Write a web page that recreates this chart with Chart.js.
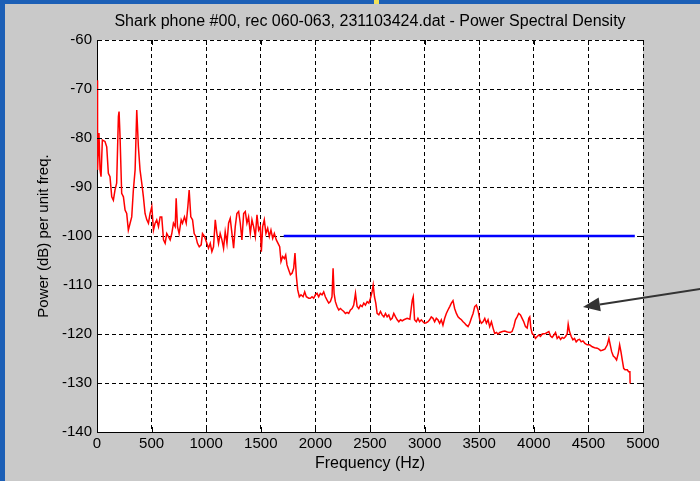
<!DOCTYPE html>
<html>
<head>
<meta charset="utf-8">
<title>Power Spectral Density</title>
<script src="https://cdn.jsdelivr.net/npm/chart.js@4.4.0/dist/chart.umd.min.js"></script>
<style>
  html, body { margin: 0; padding: 0; background: #1c5fb6; overflow: hidden; }
  canvas { display: block; }
</style>
</head>
<body>
<canvas id="psd" width="700" height="481"></canvas>
<script>
// valori (Hz, dB per unità di frequenza)
const psdFreq = [
  0, 5, 18, 28, 37, 49, 73, 89, 104, 119, 135, 150, 165, 180, 196, 202, 211, 226, 242, 257,
  272, 287, 303, 318, 333, 349, 364, 379, 394, 410, 425, 440, 456, 471, 486, 502, 517, 532, 547, 563,
  578, 593, 609, 624, 639, 654, 670, 685, 700, 716, 725, 737, 752, 771, 783, 801, 817, 832, 844, 859,
  875, 890, 905, 920, 936, 954, 966, 985,
  1006, 1021, 1037, 1052, 1067, 1083, 1098, 1113, 1128, 1144, 1159, 1174, 1190, 1205, 1220, 1236, 1251, 1266, 1281, 1297,
  1312, 1327, 1343, 1358, 1373, 1388, 1404, 1419, 1434, 1450, 1465, 1480, 1495, 1505, 1517, 1532, 1547, 1563, 1578, 1593,
  1609, 1624, 1642, 1658, 1673, 1685, 1700, 1716, 1728, 1740, 1755, 1771, 1786, 1801, 1813, 1826, 1838, 1853, 1868, 1887,
  1902, 1917, 1939,
  1954, 1969, 1984, 2000, 2015, 2030, 2045, 2061, 2076, 2091, 2107, 2122, 2137, 2152, 2162, 2171, 2183, 2198, 2214, 2229,
  2244, 2260, 2275, 2290, 2305, 2321, 2336, 2351, 2367, 2382, 2397, 2412, 2428, 2443, 2458, 2474, 2489, 2504, 2519, 2529,
  2541, 2553, 2565, 2581, 2596, 2611, 2627, 2642, 2657, 2672, 2688, 2703, 2718, 2734, 2749, 2764, 2779, 2795, 2810, 2840,
  2865,
  2887, 2896, 2908, 2924, 2939, 2954, 2970, 2985, 3000, 3015, 3031, 3046, 3061, 3077, 3092, 3107, 3122, 3138, 3153, 3168,
  3184, 3199, 3214, 3230, 3245, 3260, 3275, 3291, 3306, 3321, 3337, 3352, 3367, 3382, 3398, 3413, 3428, 3444, 3459, 3474,
  3489, 3505, 3520, 3535, 3551, 3566, 3581, 3596, 3612, 3627, 3642, 3658, 3673, 3688, 3713, 3734, 3758, 3783,
  3801, 3817, 3832, 3847, 3862, 3878, 3893, 3908, 3924, 3939, 3954, 3963, 3973, 3985, 4000, 4015, 4031, 4046, 4061, 4077,
  4107, 4138, 4153, 4168, 4184, 4199, 4214, 4229, 4245, 4260, 4275, 4291, 4306, 4315, 4327, 4343, 4358, 4373, 4388, 4404,
  4419, 4434, 4450, 4468, 4489, 4511, 4535, 4557, 4581, 4596, 4612, 4627, 4651, 4673, 4688, 4700, 4713, 4728, 4743, 4758,
  4774, 4786, 4798, 4810, 4823, 4835, 4856, 4868, 4880, 4882
];
const psdDb = [
  -68.2, -86.5, -79.0, -86.5, -87.9, -80.4, -80.7, -81.8, -87.2, -87.9, -92.0, -92.7, -90.6, -89.2, -75.6, -74.6, -79.7, -91.3, -92.0, -94.7,
  -95.4, -98.8, -97.4, -96.1, -90.6, -86.5, -74.3, -81.8, -86.5, -89.2, -92.0, -95.4, -96.7, -97.4, -95.4, -94.0, -98.8, -97.4, -96.7, -98.1,
  -96.1, -96.1, -100.8, -101.5, -99.5, -100.1, -100.8, -99.5, -97.4, -98.1, -92.3, -98.1, -99.5, -96.7, -97.4, -96.1, -97.4, -94.0, -90.6, -96.1,
  -96.7, -99.5, -100.1, -101.5, -102.2, -101.8, -99.5, -100.1,
  -101.5, -102.5, -101.5, -103.2, -102.2, -96.7, -99.5, -101.5, -99.5, -100.8, -102.5, -99.1, -101.5, -97.4, -96.4, -99.5, -102.5, -98.1, -95.4, -95.0,
  -97.4, -100.8, -95.4, -95.0, -97.4, -96.1, -99.5, -96.7, -98.1, -100.1, -95.7, -98.8, -98.1, -103.2, -98.1, -96.7, -99.5, -98.4, -100.1, -98.8,
  -100.5, -99.5, -100.8, -101.5, -102.2, -105.2, -104.2, -104.6, -103.9, -105.9, -106.9, -107.9, -107.6, -106.6, -103.5, -108.3, -111.0, -112.4, -112.0, -112.4,
  -111.4, -112.4, -112.7,
  -112.7, -112.4, -112.7, -112.0, -111.7, -112.4, -111.7, -112.0, -111.4, -112.4, -113.1, -113.7, -113.4, -112.4, -106.6, -111.7, -113.4, -114.4, -115.1, -114.8,
  -115.1, -115.4, -115.8, -115.6, -115.8, -115.1, -114.8, -114.1, -111.7, -114.4, -114.8, -114.1, -114.4, -113.7, -114.1, -113.4, -113.7, -112.7, -111.4, -110.0,
  -112.4, -113.7, -115.8, -116.1, -115.4, -116.1, -116.5, -115.8, -116.5, -116.1, -117.1, -116.8, -115.8, -116.5, -117.1, -117.5, -117.1, -117.3, -117.1, -116.8,
  -117.0,
  -113.1, -112.4, -117.1, -117.5, -116.8, -117.5, -117.1, -117.5, -117.8, -117.7, -117.5, -117.1, -116.5, -116.8, -117.5, -116.8, -117.1, -117.8, -117.1, -118.2,
  -116.8, -115.8, -115.1, -114.4, -113.7, -113.2, -114.8, -115.8, -116.5, -116.8, -117.1, -117.5, -117.8, -118.2, -118.5, -117.8, -116.8, -115.8, -114.4, -114.1,
  -115.1, -117.1, -117.8, -117.5, -116.8, -117.8, -117.1, -118.5, -117.5, -118.8, -119.9, -119.7, -120.0, -119.7, -119.5, -119.4, -119.6, -119.7,
  -119.5, -118.5, -117.1, -116.5, -115.8, -116.1, -116.8, -117.5, -118.5, -118.8, -116.8, -116.5, -118.8, -119.9, -120.2, -120.9, -120.5, -120.2, -120.5, -120.0,
  -119.9, -119.5, -120.4, -120.7, -120.2, -119.7, -120.9, -120.5, -121.1, -120.7, -120.9, -120.5, -119.9, -118.0, -119.5, -120.5, -121.2, -120.9, -121.6, -121.2,
  -121.1, -121.6, -121.4, -121.9, -122.2, -122.2, -122.6, -122.8, -122.9, -123.1, -123.4, -123.3, -123.1, -122.2, -120.9, -122.2, -123.6, -124.5, -124.8, -125.3,
  -123.9, -122.2, -123.6, -125.3, -127.0, -127.3, -127.3, -127.7, -127.7, -130.1
];

// linea di riferimento a -100 dB
const refFreq = [1710, 4925];
const refDb = [-100, -100];

// freccia di annotazione (coordinate dati: coda fuori dal grafico, punta sulla curva)
const arrowTail = [5525, -110.8];
const arrowTip = [4450, -114.5];

const titolo = 'Shark phone #00, rec 060-063, 231103424.dat - Power Spectral Density';
const xLabel = 'Frequency (Hz)';
const yLabel = 'Power (dB) per unit freq.';
const xMin = 0, xMax = 5000, xStep = 500;
const yMin = -140, yMax = -60, yStep = 10;

const FONT = "'Liberation Sans', Arial, sans-serif";
const toPts = (xs, ys) => xs.map((x, i) => ({ x, y: ys[i] }));

// sfondo: bordo blu della slide, pannello grigio della figura, area bianca degli assi
const sfondo = {
  id: 'sfondo',
  beforeDraw(chart) {
    const { ctx, chartArea: a, width, height } = chart;
    ctx.save();
    ctx.fillStyle = '#1c5fb6';
    ctx.fillRect(0, 0, width, height);
    ctx.fillStyle = '#c9c9c9';
    ctx.fillRect(5, 4, width - 5, height - 4);
    ctx.fillStyle = '#f2e25a';
    ctx.fillRect(374, 0, 5, 4);
    ctx.fillStyle = '#ffffff';
    ctx.fillRect(a.left, a.top, a.right - a.left, a.bottom - a.top);
    ctx.restore();
  }
};

// titolo, tacche interne stile MATLAB e freccia
const extra = {
  id: 'extra',
  afterDraw(chart) {
    const { ctx, chartArea: a, scales: { x, y } } = chart;
    ctx.save();
    ctx.strokeStyle = '#000';
    ctx.lineWidth = 1;
    ctx.beginPath();
    x.ticks.forEach(t => {
      const px = Math.round(x.getPixelForValue(t.value)) + 0.5;
      ctx.moveTo(px, a.bottom); ctx.lineTo(px, a.bottom - 5);
      ctx.moveTo(px, a.top); ctx.lineTo(px, a.top + 5);
    });
    y.ticks.forEach(t => {
      const py = Math.round(y.getPixelForValue(t.value)) + 0.5;
      ctx.moveTo(a.left, py); ctx.lineTo(a.left + 5, py);
      ctx.moveTo(a.right, py); ctx.lineTo(a.right - 5, py);
    });
    ctx.stroke();

    ctx.fillStyle = '#000';
    ctx.font = `16px ${FONT}`;
    ctx.textAlign = 'center';
    ctx.textBaseline = 'middle';
    ctx.fillText(titolo, (a.left + a.right) / 2, 22);

    const tx = x.getPixelForValue(arrowTail[0]), ty = y.getPixelForValue(arrowTail[1]);
    const hx = x.getPixelForValue(arrowTip[0]), hy = y.getPixelForValue(arrowTip[1]);
    const ang = Math.atan2(hy - ty, hx - tx);
    const len = 17, half = 7;
    const bx = hx - len * Math.cos(ang), by = hy - len * Math.sin(ang);
    ctx.strokeStyle = '#333';
    ctx.fillStyle = '#333';
    ctx.lineWidth = 2;
    ctx.beginPath();
    ctx.moveTo(tx, ty); ctx.lineTo(bx, by);
    ctx.stroke();
    ctx.beginPath();
    ctx.moveTo(hx, hy);
    ctx.lineTo(bx + half * Math.sin(ang), by - half * Math.cos(ang));
    ctx.lineTo(bx - half * Math.sin(ang), by + half * Math.cos(ang));
    ctx.closePath();
    ctx.fill();
    ctx.restore();
  }
};

new Chart(document.getElementById('psd'), {
  type: 'line',
  data: {
    datasets: [
      { data: toPts(psdFreq, psdDb), borderColor: '#ff0000', borderWidth: 1.5, pointRadius: 0, tension: 0 },
      { data: toPts(refFreq, refDb), borderColor: '#0000ff', borderWidth: 2.5, pointRadius: 0, tension: 0 }
    ]
  },
  options: {
    responsive: false,
    animation: false,
    layout: { padding: { top: 40, right: 57, left: 0, bottom: 0 } },
    plugins: { legend: { display: false }, tooltip: { enabled: false } },
    scales: {
      x: {
        type: 'linear', min: xMin, max: xMax,
        afterFit: s => { s.height = 49; },
        ticks: { stepSize: xStep, padding: 3, color: '#000', font: { family: FONT, size: 15 }, maxRotation: 0, callback: v => String(v) },
        grid: { color: '#000', lineWidth: 1, drawTicks: false },
        border: { display: true, color: '#000', width: 1, dash: [4, 3] },
        title: { display: true, text: xLabel, color: '#000', font: { family: FONT, size: 16 }, padding: { top: 0, bottom: 8 } }
      },
      y: {
        type: 'linear', min: yMin, max: yMax,
        afterFit: s => { s.width = 97; },
        ticks: { stepSize: yStep, padding: 5, color: '#000', font: { family: FONT, size: 15 }, callback: v => String(v) },
        grid: { color: '#000', lineWidth: 1, drawTicks: false },
        border: { display: true, color: '#000', width: 1, dash: [4, 3] },
        title: { display: true, text: yLabel, color: '#000', font: { family: FONT, size: 15 }, padding: { top: 35, bottom: 0 } }
      }
    }
  },
  plugins: [sfondo, extra]
});
</script>
</body>
</html>
